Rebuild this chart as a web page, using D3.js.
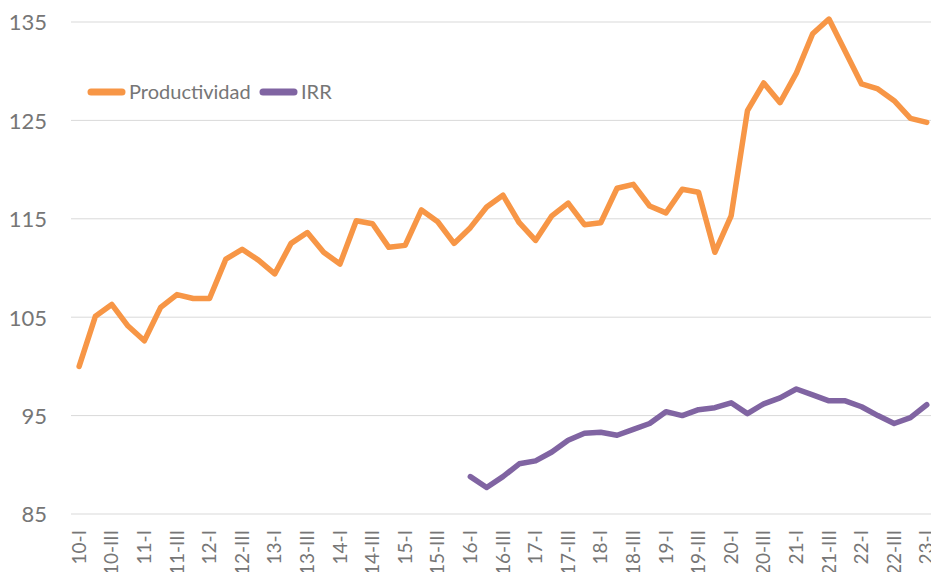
<!DOCTYPE html>
<html><head><meta charset="utf-8">
<script src="https://cdn.jsdelivr.net/npm/d3@7"></script>
<style>body{margin:0;background:#fff}svg{display:block}</style>
</head><body><svg id="c" width="931" height="572"></svg>
<script>
const categories = [];
const years = ["10","11","12","13","14","15","16","17","18","19","20","21","22","23"];
const quarters = ["I","II","III","IV"];
years.forEach(y => quarters.forEach(q => categories.push(y + "-" + q)));
categories.splice(53);

const productividad = [100.0,105.1,106.3,104.1,102.6,106.0,107.3,106.9,106.9,110.9,111.9,110.8,109.4,112.5,113.6,111.6,
  110.4,114.8,114.5,112.1,112.3,115.9,114.7,112.5,114.1,116.2,117.4,114.6,112.8,115.3,116.6,114.4,
  114.6,118.1,118.5,116.3,115.6,118.0,117.7,111.6,115.3,126.0,128.8,126.8,129.8,133.8,135.3,132.0,
  128.7,128.2,127.0,125.2,124.8];
const irr = [null,null,null,null,null,null,null,null,null,null,null,null,null,null,null,null,
  null,null,null,null,null,null,null,null,88.8,87.7,88.8,90.1,90.4,91.3,92.5,93.2,
  93.3,93.0,93.6,94.2,95.4,95.0,95.6,95.8,96.3,95.2,96.2,96.8,97.7,97.1,96.5,96.5,
  95.9,95.0,94.2,94.8,96.1];
const yTicks = [85,95,105,115,125,135];
const seriesNames = ["Productividad","IRR"];
const colors = ["#F79646","#8064A2"];

const svg = d3.select("#c");
const x = d3.scaleBand().domain(categories).range([71, 71 + 53*16.3]);
const y = d3.scaleLinear().domain([85,135]).range([514, 22]);
const xc = d => x(d) + x.bandwidth()/2;

// grid
svg.append("g").selectAll("line").data(yTicks).join("line")
  .attr("x1", 71).attr("x2", 931).attr("y1", d => y(d)).attr("y2", d => y(d))
  .attr("stroke", "#d9d9d9").attr("stroke-width", 1);

// y labels
const yAxis = d3.axisLeft(y).tickValues(yTicks).tickSize(0).tickPadding(0);
const yg = svg.append("g").attr("transform","translate(47,0)").call(yAxis);
yg.select(".domain").remove();
yg.selectAll("text").attr("font-family","Lato, 'Open Sans', sans-serif").attr("font-size",22).attr("fill","#767676").attr("dy","0.36em");

// x labels
const xAxis = d3.axisBottom(x).tickValues(categories.filter((d,i)=>i%2===0)).tickSize(0).tickPadding(0);
const xg = svg.append("g").attr("transform","translate(0,530)").call(xAxis);
xg.select(".domain").remove();
xg.selectAll("text").attr("font-family","Lato, 'Open Sans', sans-serif").attr("font-size",19).attr("fill","#767676")
  .attr("transform","rotate(-90)").attr("text-anchor","end").attr("x",0).attr("y",0).attr("dy","0.35em")
  .attr("dx", 0);
xg.selectAll(".tick").attr("transform", d => `translate(${xc(d)},530)`);
xg.attr("transform", null);

const line = d3.line().defined(d => d.v != null).x(d => xc(d.c)).y(d => y(d.v));
[productividad, irr].forEach((s,k) => {
  svg.append("path").datum(s.map((v,i)=>({c:categories[i], v})))
    .attr("d", line).attr("fill","none").attr("stroke", colors[k]).attr("stroke-width",5.5)
    .attr("stroke-linejoin","round").attr("stroke-linecap","round");
});

// legend
const lg = svg.append("g");
const lx = [91, 263];
seriesNames.forEach((n,k) => {
  lg.append("line").attr("x1", lx[k]).attr("x2", lx[k]+31).attr("y1", 92).attr("y2", 92)
    .attr("stroke", colors[k]).attr("stroke-width", 7).attr("stroke-linecap","round");
  lg.append("text").attr("x", lx[k]+38).attr("y", 92).attr("dy","0.36em")
    .attr("font-family","Lato, 'Open Sans', sans-serif").attr("font-size",20).attr("fill","#767676").text(n);
});
</script></body></html>
